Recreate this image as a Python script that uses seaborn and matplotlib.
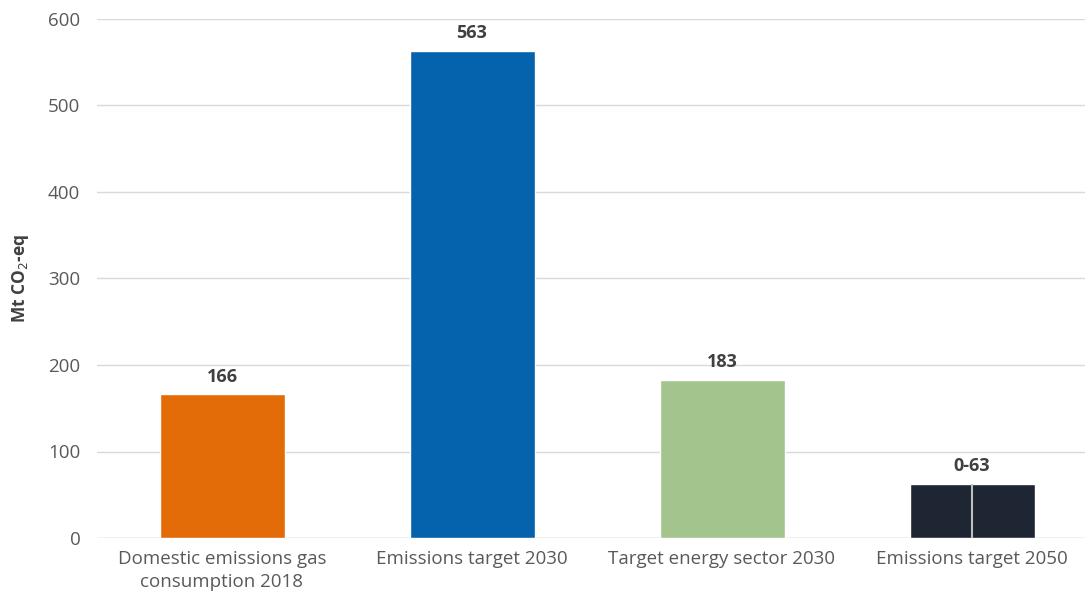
import matplotlib
matplotlib.use('Agg')
import matplotlib.pyplot as plt
import seaborn as sns
import pandas as pd

categories = ['Domestic emissions gas\nconsumption 2018', 'Emissions target 2030',
              'Target energy sector 2030', 'Emissions target 2050']
values = [166, 563, 183, 63]
labels = ['166', '563', '183', '0-63']
colors = ['#E36C09', '#0563AD', '#A3C48C', '#1F2633']
range_low = 0
range_high = 63

sns.set_theme(style='white')
plt.rcParams['font.family'] = ['Open Sans', 'DejaVu Sans']

df = pd.DataFrame({'category': categories, 'value': values})

fig = plt.figure(figsize=(10.85, 6.02), dpi=100)
ax = fig.add_axes([97 / 1085, 64 / 602, 988 / 1085, 519 / 602])

sns.barplot(data=df, x='category', y='value', hue='category', palette=colors,
            width=0.5, legend=False, ax=ax, saturation=1)

# range line on the 2050 bar
ax.vlines(3, range_low, range_high, color='#BFBFBF', lw=1.5, zorder=3)

for i, (v, t) in enumerate(zip(values, labels)):
    ax.text(i, v + 10, t, ha='center', va='bottom', fontsize=13,
            fontweight='bold', color='#404040')

ax.set_xlim(-0.5, 3.452)
ax.set_ylim(0, 600)
ax.set_yticks(range(0, 601, 100))
ax.yaxis.grid(True, color='#D9D9D9', lw=1)
ax.set_axisbelow(True)
for s in ax.spines.values():
    s.set_visible(False)
ax.axhline(0, color='#D9D9D9', lw=1, zorder=0)
ax.tick_params(axis='both', length=0, labelsize=13.5, colors='#595959', pad=9)
ax.tick_params(axis='y', pad=12)
for t in ax.get_xticklabels():
    t.set_linespacing(1.3)
ax.set_xlabel('')
ax.set_ylabel('Mt CO$_2$-eq', fontsize=12.5, fontweight='bold', color='#404040', labelpad=12)

fig.savefig('out.png', dpi=100)
